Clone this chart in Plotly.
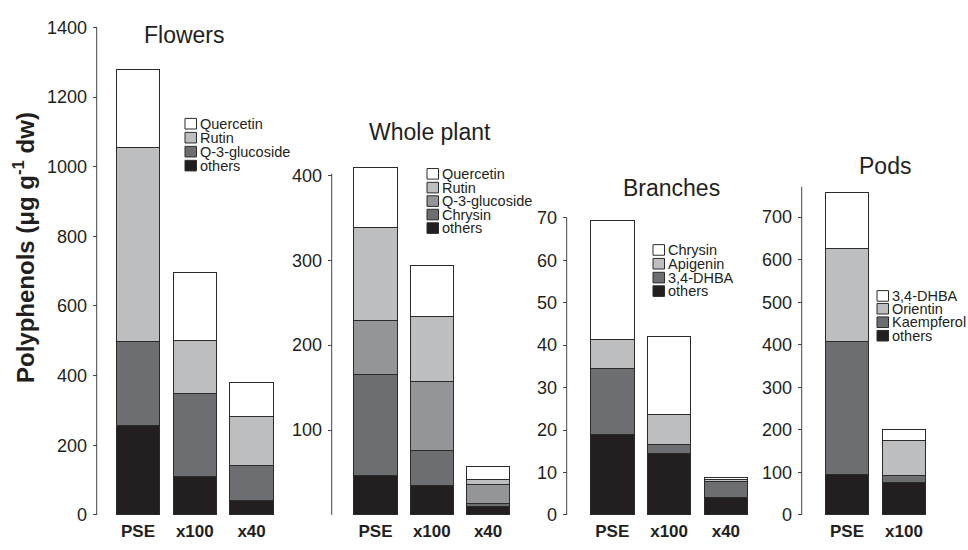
import plotly.graph_objects as go

# ---------------- data ----------------
flowers_cats = ["PSE", "x100", "x40"]
flowers_others = [257, 111, 41]
flowers_q3g = [241, 239, 102]
flowers_rutin = [557, 150, 140]
flowers_quercetin = [225, 197, 96]

whole_cats = ["PSE", "x100", "x40"]
whole_others = [47, 35, 10]
whole_chrysin = [118, 41, 3]
whole_q3g = [64, 81, 23]
whole_rutin = [110, 77, 6]
whole_quercetin = [70, 60, 15]

branches_cats = ["PSE", "x100", "x40"]
branches_others = [19.0, 14.5, 4.1]
branches_dhba = [15.5, 2.2, 3.8]
branches_apigenin = [6.8, 6.9, 0.4]
branches_chrysin = [28.0, 18.4, 0.5]

pods_cats = ["PSE", "x100"]
pods_others = [95, 76]
pods_kaempferol = [312, 17]
pods_orientin = [220, 82]
pods_dhba = [131, 25]

flowers_ticks = [0, 200, 400, 600, 800, 1000, 1200, 1400]
whole_ticks = [100, 200, 300, 400]
branches_ticks = [0, 10, 20, 30, 40, 50, 60, 70]
pods_ticks = [0, 100, 200, 300, 400, 500, 600, 700]

# ---------------- styling ----------------
W, H = 968, 550
WHITE, LIGHT, MID, DARK, BLACK = "#ffffff", "#bcbec0", "#939598", "#6d6e71", "#231f20"
OUTLINE = "#2b2b2b"
FONT = "Liberation Sans, Arial, Helvetica, sans-serif"
TXT = "#231f20"


def px(x):
    return x / W


def py(y):
    return 1 - y / H


panels = [
    dict(cats=flowers_cats, title="Flowers",
         series=[("others", flowers_others, BLACK), ("Q-3-glucoside", flowers_q3g, DARK),
                 ("Rutin", flowers_rutin, LIGHT), ("Quercetin", flowers_quercetin, WHITE)],
         axis_x=96.7, first_center=138, spacing=56.8, yrange=[0, 1400], ytop_px=18,
         ticks=flowers_ticks, line_top=1400,
         title_xy=(184, 26), leg_x=185, leg_rows=[118, 132.5, 147, 161.5]),
    dict(cats=whole_cats, title="Whole plant",
         series=[("others", whole_others, BLACK), ("Chrysin", whole_chrysin, DARK),
                 ("Q-3-glucoside", whole_q3g, MID), ("Rutin", whole_rutin, LIGHT),
                 ("Quercetin", whole_quercetin, WHITE)],
         axis_x=331.7, first_center=375.5, spacing=56.3, yrange=[0, 415], ytop_px=524 - 415 * 0.881,
         ticks=whole_ticks, line_top=402,
         title_xy=(430, 127), leg_x=427, leg_rows=[170, 184.3, 198.3, 212.3, 226.3]),
    dict(cats=branches_cats, title="Branches",
         series=[("others", branches_others, BLACK), ("3,4-DHBA", branches_dhba, DARK),
                 ("Apigenin", branches_apigenin, LIGHT), ("Chrysin", branches_chrysin, WHITE)],
         axis_x=566.7, first_center=612.3, spacing=56.8, yrange=[0, 70], ytop_px=215.7,
         ticks=branches_ticks, line_top=70,
         title_xy=(671, 185), leg_x=653, leg_rows=[249, 263.3, 277.7, 291.7]),
    dict(cats=pods_cats, title="Pods",
         series=[("others", pods_others, BLACK), ("Kaempferol", pods_kaempferol, DARK),
                 ("Orientin", pods_orientin, LIGHT), ("3,4-DHBA", pods_dhba, WHITE)],
         axis_x=801.7, first_center=847, spacing=57, yrange=[0, 772], ytop_px=183.2,
         ticks=pods_ticks, line_top=772,
         title_xy=(885, 162), leg_x=877, leg_rows=[296.7, 310, 324, 338]),
]

BASE = 524
fig = go.Figure()
layout = dict(
    width=W, height=H, margin=dict(l=0, r=0, t=0, b=0),
    paper_bgcolor="white", plot_bgcolor="rgba(0,0,0,0)",
    barmode="stack", bargap=0.234, showlegend=False,
    font=dict(family=FONT, color=TXT),
)
shapes, annotations = [], []

for i, p in enumerate(panels):
    k = "" if i == 0 else str(i + 1)
    xa, ya = "x" + k, "y" + k
    n = len(p["cats"])
    for name, vals, col in p["series"]:
        fig.add_trace(go.Bar(
            x=p["cats"], y=vals, name=name, xaxis=xa, yaxis=ya,
            marker=dict(color=col, line=dict(color=OUTLINE, width=1)),
            showlegend=False, hoverinfo="name+y"))
    left = p["first_center"] - p["spacing"] / 2
    right = left + n * p["spacing"]
    layout["xaxis" + k] = dict(
        domain=[px(left), px(right)], anchor=ya, type="category",
        range=[-0.5, n - 0.5], showline=False, ticks="", showgrid=False, zeroline=False,
        tickfont=dict(size=17, family=FONT, color=TXT, weight="bold"), ticklabelstandoff=4)
    layout["yaxis" + k] = dict(
        domain=[py(BASE), py(p["ytop_px"])], anchor="free", position=px(p["axis_x"]),
        range=p["yrange"], tickvals=p["ticks"], ticks="outside", ticklen=4,
        tickcolor="#444", tickwidth=1, showgrid=False, zeroline=False,
        showline=False, ticklabelstandoff=2, tickfont=dict(size=18, family=FONT, color=TXT))
    shapes.append(dict(type="line", xref="paper", yref=ya, x0=px(p["axis_x"]), x1=px(p["axis_x"]),
                       y0=0, y1=p["line_top"], line=dict(color="#444", width=1)))
    # panel title
    annotations.append(dict(text=p["title"], x=px(p["title_xy"][0]), y=py(p["title_xy"][1]),
                            xref="paper", yref="paper", showarrow=False, xanchor="center",
                            yanchor="middle", font=dict(size=23, family=FONT, color=TXT)))
    # legend (top entry = last stacked series)
    for (name, vals, col), cy in zip(reversed(p["series"]), p["leg_rows"]):
        bx = p["leg_x"]
        shapes.append(dict(type="rect", xref="paper", yref="paper",
                           x0=px(bx), x1=px(bx + 11.5), y0=py(cy + 5.5), y1=py(cy - 5.5),
                           fillcolor=col, line=dict(color=OUTLINE, width=1)))
        annotations.append(dict(text=name, x=px(bx + 14), y=py(cy), xref="paper", yref="paper",
                                showarrow=False, xanchor="left", yanchor="middle", borderpad=0,
                                font=dict(size=14.5, family=FONT, color=TXT)))

annotations.append(dict(text="<b>Polyphenols (μg g<sup>-1</sup> dw)</b>", x=px(24), y=py(247),
                        xref="paper", yref="paper", showarrow=False, textangle=-90,
                        xanchor="center", yanchor="middle",
                        font=dict(size=24, family=FONT, color=TXT)))

layout["shapes"] = shapes
layout["annotations"] = annotations
fig.update_layout(**layout)
fig.write_html("out.html", config={"displayModeBar": False},
               post_script="document.body.style.margin='0';document.body.style.padding='0';")
